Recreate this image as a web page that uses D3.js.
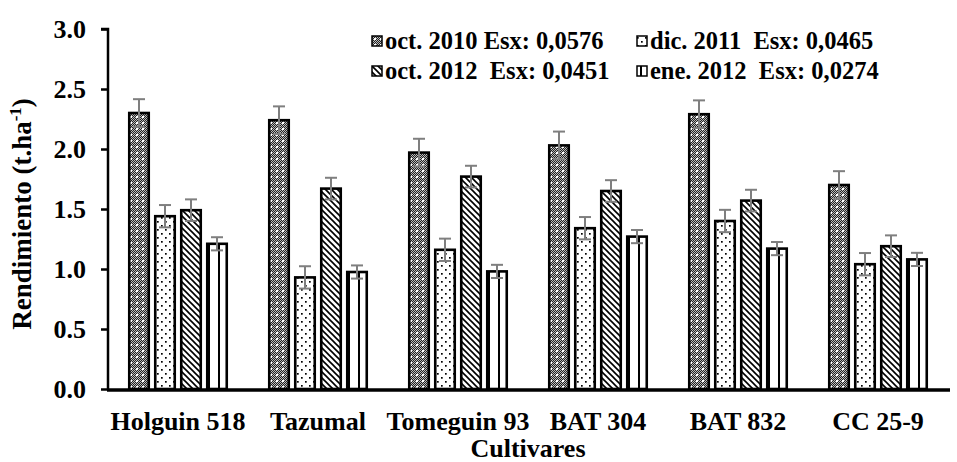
<!DOCTYPE html>
<html><head><meta charset="utf-8">
<script src="https://cdn.jsdelivr.net/npm/d3@7"></script>
<style>html,body{margin:0;padding:0;background:#fff;}</style>
</head>
<body><svg id="c" width="957" height="462"></svg>
<script>
const categories = ["Holguin 518","Tazumal","Tomeguin 93","BAT 304","BAT 832","CC 25-9"];
const seriesNames = ["oct. 2010 Esx: 0,0576","dic. 2011  Esx: 0,0465","oct. 2012  Esx: 0,0451","ene. 2012  Esx: 0,0274"];
const oct2010 = [2.30, 2.24, 1.97, 2.03, 2.29, 1.70];
const dic2011 = [1.44, 0.93, 1.16, 1.34, 1.40, 1.04];
const oct2012 = [1.49, 1.67, 1.77, 1.65, 1.57, 1.19];
const ene2012 = [1.21, 0.975, 0.98, 1.27, 1.17, 1.08];
const esx = [0.0576, 0.0465, 0.0451, 0.0274];
const yTicks = [0, 0.5, 1.0, 1.5, 2.0, 2.5, 3.0];
const seriesValues = [oct2010, dic2011, oct2012, ene2012];

(function(){
const FONT = "Liberation Serif";
const svg = d3.select("#c");
const defs = svg.append("defs");
function styleText(sel, size){
  sel.style("font-family", FONT).style("font-weight","bold").style("font-size", size+"px").attr("fill","#000");
  return sel;
}

const p0 = defs.append("pattern").attr("id","pat0").attr("patternUnits","userSpaceOnUse").attr("width",6).attr("height",6);
p0.append("rect").attr("width",6).attr("height",6).attr("fill","#222");
for (let i=0;i<6;i++) for (let j=0;j<6;j++) if ((i+j)%2===0) p0.append("rect").attr("x",i).attr("y",j).attr("width",1).attr("height",1).attr("fill","#bbb");
p0.append("rect").attr("x",2).attr("y",2).attr("width",2).attr("height",2).attr("fill","#fff");

const p1 = defs.append("pattern").attr("id","pat1").attr("patternUnits","userSpaceOnUse").attr("width",8).attr("height",8);
p1.append("rect").attr("width",8).attr("height",8).attr("fill","#fff");
p1.append("rect").attr("x",1).attr("y",1).attr("width",1.7).attr("height",1.7).attr("fill","#000");
p1.append("rect").attr("x",5).attr("y",5).attr("width",1.7).attr("height",1.7).attr("fill","#000");

const p2 = defs.append("pattern").attr("id","pat2").attr("patternUnits","userSpaceOnUse").attr("width",6).attr("height",6);
p2.append("rect").attr("width",6).attr("height",6).attr("fill","#fff");
p2.append("path").attr("d","M-1,-1 L7,7 M-4,2 L2,8 M2,-4 L8,2").attr("stroke","#000").attr("stroke-width",1.6);

const p3 = defs.append("pattern").attr("id","pat3").attr("patternUnits","userSpaceOnUse").attr("width",10).attr("height",10);
p3.append("rect").attr("width",10).attr("height",10).attr("fill","#fff");
p3.append("rect").attr("x",0).attr("y",0).attr("width",2).attr("height",10).attr("fill","#000");

const patIds = ["url(#pat0)","url(#pat1)","url(#pat2)","url(#pat3)"];

const mLeft = 108, mRight = 948, mTop = 29, mBottom = 389;
const y = d3.scaleLinear().domain([0,3]).range([mBottom, mTop]);
const x0 = d3.scaleBand().domain(categories).range([mLeft, mRight]).padding(0);
const x1 = d3.scaleBand().domain(d3.range(4)).range([0,100]).paddingInner(4/26).paddingOuter(0);
const groupOffset = (x0.bandwidth() - 100)/2;

categories.forEach((c, ci) => {
  const g = svg.append("g").attr("transform", `translate(${x0(c)+groupOffset},0)`);
  seriesValues.forEach((vals, si) => {
    const v = vals[ci];
    g.append("rect")
      .attr("x", x1(si)+1.25).attr("y", y(v))
      .attr("width", x1.bandwidth()-2.5).attr("height", y(0)-y(v))
      .attr("fill", patIds[si]).attr("stroke","#000").attr("stroke-width",2.6);
  });
  seriesValues.forEach((vals, si) => {
    const v = vals[ci], e = 2*esx[si];
    const cx = x1(si) + x1.bandwidth()/2;
    const eg = g.append("g").attr("stroke","#7f7f7f").attr("stroke-width",2);
    eg.append("line").attr("x1",cx).attr("x2",cx).attr("y1",y(v+e)).attr("y2",y(v-e));
    eg.append("line").attr("x1",cx-6).attr("x2",cx+6).attr("y1",y(v+e)).attr("y2",y(v+e));
    eg.append("line").attr("x1",cx-6).attr("x2",cx+6).attr("y1",y(v-e)).attr("y2",y(v-e));
  });
});

const yAxis = d3.axisLeft(y).tickValues(yTicks).tickFormat(d3.format(".1f")).tickSize(7).tickPadding(15);
const ya = svg.append("g").attr("transform",`translate(${mLeft},0)`).call(yAxis);
ya.select(".domain").attr("stroke","#000").attr("stroke-width",2.5).attr("d",`M-7,${mTop}H0V${mBottom}`);
ya.selectAll(".tick line").attr("stroke","#000").attr("stroke-width",2.5);
styleText(ya.selectAll(".tick text"), 26);

const xAxis = d3.axisBottom(x0).tickSize(0).tickPadding(22);
const xa = svg.append("g").attr("transform",`translate(0,${mBottom+1})`).call(xAxis);
xa.select(".domain").attr("stroke","#000").attr("stroke-width",3.5).attr("d",`M${mLeft-1},0H${mRight+2}`);
styleText(xa.selectAll(".tick text"), 26);

styleText(svg.append("text").attr("x",(mLeft+mRight)/2).attr("y",457).attr("text-anchor","middle"), 26).text("Cultivares");
const yt = styleText(svg.append("text").attr("transform","translate(31,214) rotate(-90)").attr("text-anchor","middle"), 27);
yt.append("tspan").text("Rendimiento (t.ha");
yt.append("tspan").attr("dy",-10).style("font-size","17px").text("-1");
yt.append("tspan").attr("dy",10).text(")");

const legPos = [[372,41],[637,41],[372,71],[637,71]];
seriesNames.forEach((n, i) => {
  const [lx, ly] = legPos[i];
  svg.append("rect").attr("x",lx).attr("y",ly-5).attr("width",10).attr("height",10)
    .attr("fill",patIds[i]).attr("stroke","#000").attr("stroke-width",1.5);
  styleText(svg.append("text").attr("x",lx+13).attr("y",ly+8), 24.5)
    .style("white-space","pre").attr("xml:space","preserve").text(n);
});
})();
</script></body></html>
